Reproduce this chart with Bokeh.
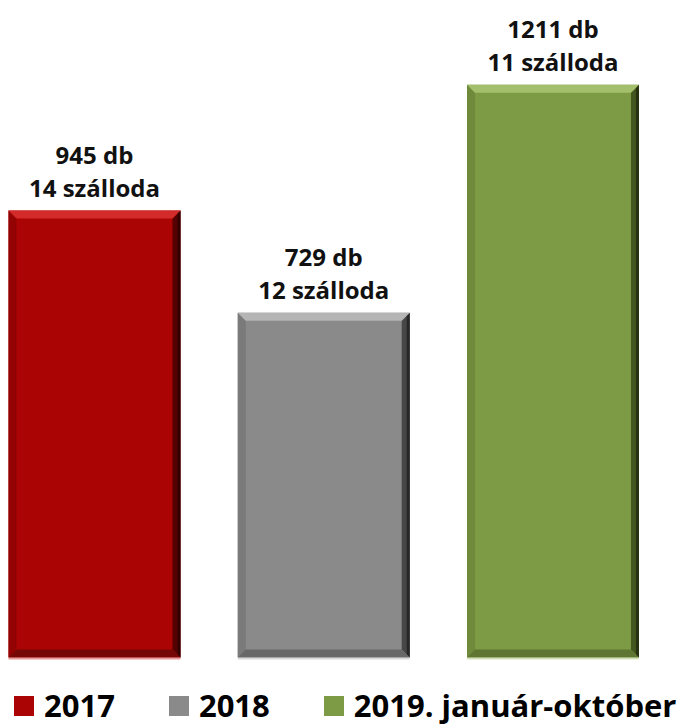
from bokeh.plotting import figure
from bokeh.models import Range1d, Legend, LegendItem, ColumnDataSource
from bokeh.core.properties import value
from bokeh.embed import file_html
from bokeh.resources import INLINE

# ---- data ----
categories = ["2017", "2018", "2019. január-október"]
counts = [945, 729, 1211]
hotels = [14, 12, 11]
count_labels = [f"{c} db" for c in counts]
hotel_labels = [f"{h} szálloda" for h in hotels]

# ---- style ----
main_colors = ["#AB0404", "#8A8A8A", "#7D9B44"]
top_colors = ["#D32A2A", "#B5B5B5", "#A4BF6B"]
left_colors = ["#940303", "#7A7A7A", "#6E8A3A"]
right_colors = ["#560202", "#474747", "#44561F"]
edge_colors = ["#2A0000", "#1F1F1F", "#1F280D"]
bottom_colors = ["#760707", "#686868", "#5E7632"]
glow_colors = ["#E07070", "#C8C8C8", "#C0D49A"]

FONT = value("Open Sans")
W, H = 680, 727
X_START, X_END = -0.41, 2.5562
Y_START, Y_END = -148.0, 1389.0
BAR_W = 0.75
dx = (X_END - X_START) / W   # data units per pixel (x)
dy = (Y_END - Y_START) / H   # data units per pixel (y)
BEV = 8

p = figure(width=W, height=H, x_range=Range1d(X_START, X_END),
           y_range=Range1d(Y_START, Y_END), output_backend="svg",
           toolbar_location=None, min_border=0,
           x_axis_location=None, y_axis_location=None)
p.grid.visible = False
p.outline_line_color = None

xs_idx = list(range(len(counts)))
src = ColumnDataSource(dict(x=xs_idx, top=counts, color=main_colors,
                            cat=categories, l1=count_labels, l2=hotel_labels))

bars = p.vbar(x="x", top="top", bottom=0, width=BAR_W, fill_color="color",
              line_color=None, source=src)

# bevel pieces computed from data
bx, by = BEV * dx, BEV * dy
L_xs, L_ys, R_xs, R_ys, T_xs, T_ys, B_xs, B_ys, E_xs, E_ys = ([] for _ in range(10))
G_xs, G_ys = [], []
for i, v in zip(xs_idx, counts):
    l, r, t, b = i - BAR_W / 2, i + BAR_W / 2, v, 0
    L_xs.append([l, l, l + bx, l + bx]); L_ys.append([b, t, t - by, b + by])
    R_xs.append([r, r, r - bx, r - bx]); R_ys.append([b, t, t - by, b + by])
    E_xs.append([r, r, r - 3 * dx, r - 3 * dx]); E_ys.append([b, t, t - 3 * dy, b + 3 * dy])
    T_xs.append([l, r, r - bx, l + bx]); T_ys.append([t, t, t - by, t - by])
    B_xs.append([l, r, r - bx, l + bx]); B_ys.append([b, b, b + by, b + by])
    G_xs.append([l, r, r, l]); G_ys.append([b, b, b - 2 * dy, b - 2 * dy])

p.patches(L_xs, L_ys, fill_color=left_colors, line_color=None)
p.patches(R_xs, R_ys, fill_color=right_colors, line_color=None)
p.patches(E_xs, E_ys, fill_color=edge_colors, line_color=None, fill_alpha=0.8)
p.patches(T_xs, T_ys, fill_color=top_colors, line_color=None)
p.patches(B_xs, B_ys, fill_color=bottom_colors, line_color=None)
p.patches(G_xs, G_ys, fill_color=glow_colors, line_color=None, fill_alpha=0.7)

# labels above bars
p.text(x="x", y="top", text="l2", source=src, text_align="center",
       text_baseline="alphabetic", y_offset=-23, text_font=FONT,
       text_font_style="bold", text_font_size="24px", text_color="#111111")
p.text(x="x", y="top", text="l1", source=src, text_align="center",
       text_baseline="alphabetic", y_offset=-56, text_font=FONT,
       text_font_style="bold", text_font_size="24px", text_color="#111111")

legend = Legend(items=[LegendItem(label=c, renderers=[bars], index=i)
                       for i, c in enumerate(categories)],
                orientation="horizontal", location=(11, 1),
                glyph_width=25, glyph_height=25, label_standoff=8, spacing=51,
                padding=0, margin=0, border_line_alpha=0,
                background_fill_alpha=0, label_text_font="Open Sans",
                label_text_font_size="31px", label_text_font_style="bold",
                label_text_color="black")
p.add_layout(legend)

open("out.html", "w").write(file_html(p, INLINE))
